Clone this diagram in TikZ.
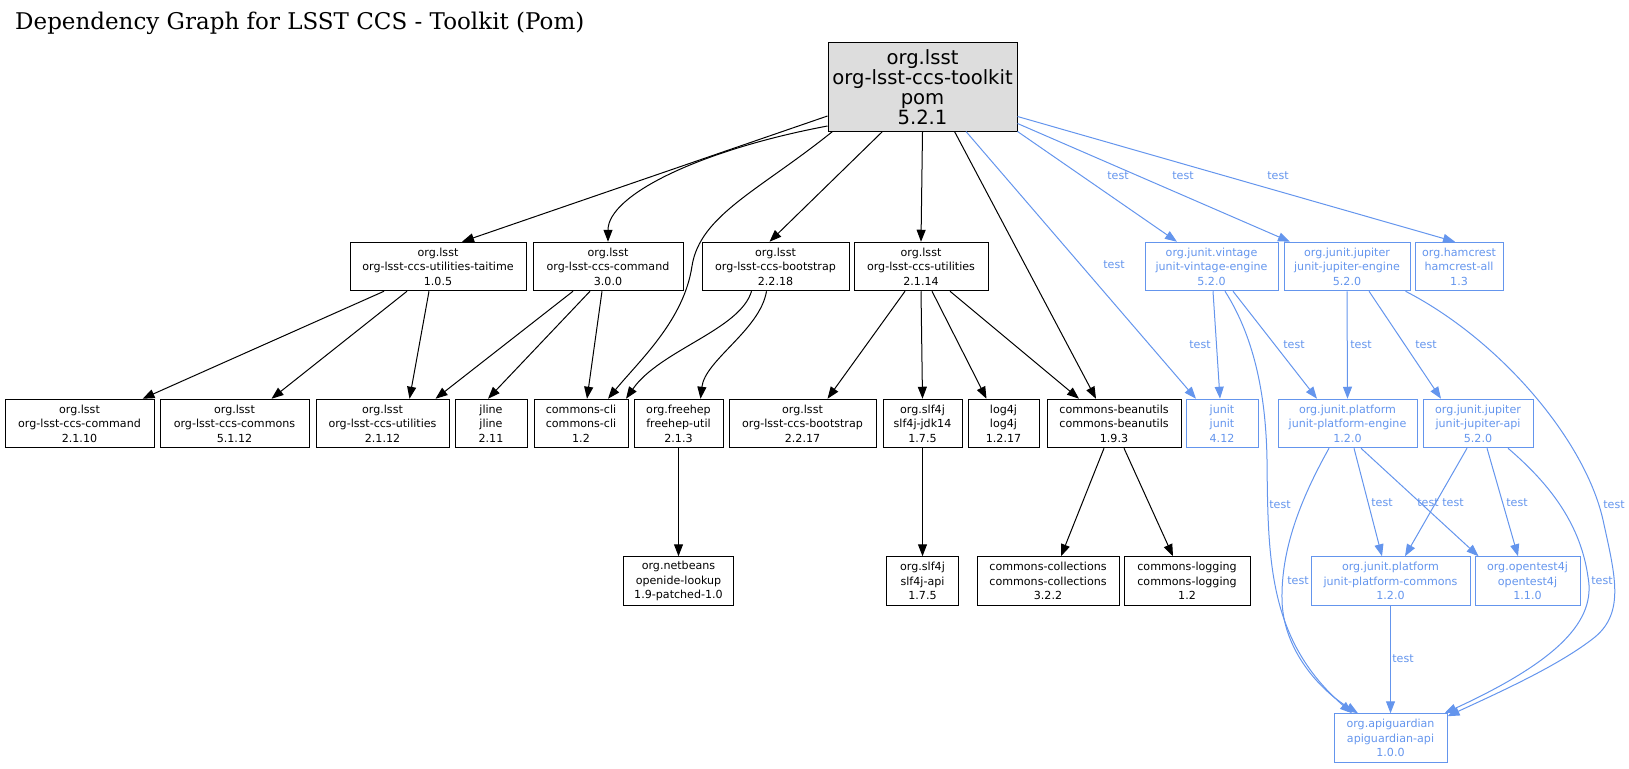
\documentclass[tikz,border=0pt]{standalone}
\usepackage{fontspec}
\setmainfont{DejaVu Sans}
\newfontfamily\titlefamily{DejaVu Serif}
\usetikzlibrary{arrows.meta}
\definecolor{testblue}{HTML}{6495ED}
\definecolor{rootgray}{HTML}{DDDDDD}
\newcommand{\pkgfont}{\fontsize{11.1}{14.5}\selectfont}
\newcommand{\rootfont}{\fontsize{19.6}{20.2}\selectfont}
\tikzset{
  pkg/.style={draw, line width=1pt, inner sep=0pt, minimum height=48.5pt, align=center, font=\pkgfont},
  testpkg/.style={pkg, draw=testblue, text=testblue},
  dep/.style={line width=1pt, -{Triangle[length=12pt,width=9pt]}},
  testdep/.style={dep, color=testblue},
  lbl/.style={inner sep=0pt, text=testblue, font=\pkgfont}
}

\begin{document}
\begin{tikzpicture}[x=1pt, y=-1pt]
	\useasboundingbox (0,0) rectangle (1629,768);
	\node[anchor=base west, inner sep=0pt, font=\titlefamily\fontsize{23}{27}\selectfont] (title) at (15,30) {Dependency Graph for LSST CCS - Toolkit (Pom)};
	% root
	\node[pkg, fill=rootgray, minimum width=189pt, minimum height=88pt, font=\rootfont] (root) at (922.5,87) {org.lsst\\org-lsst-ccs-toolkit\\pom\\5.2.1};
	% first row
	\node[pkg, minimum width=176pt] (taitime) at (438,266.5) {org.lsst\\org-lsst-ccs-utilities-taitime\\1.0.5};
	\node[pkg, minimum width=150pt] (cmdthree) at (608,266.5) {org.lsst\\org-lsst-ccs-command\\3.0.0};
	\node[pkg, minimum width=147pt] (bootnew) at (775.5,266.5) {org.lsst\\org-lsst-ccs-bootstrap\\2.2.18};
	\node[pkg, minimum width=134pt] (utilnew) at (921,266.5) {org.lsst\\org-lsst-ccs-utilities\\2.1.14};
	\node[testpkg, minimum width=133pt] (vintage) at (1211.5,266.5) {org.junit.vintage\\junit-vintage-engine\\5.2.0};
	\node[testpkg, minimum width=126pt] (jupeng) at (1347,266.5) {org.junit.jupiter\\junit-jupiter-engine\\5.2.0};
	\node[testpkg, minimum width=88pt] (hamcrest) at (1459,266.5) {org.hamcrest\\hamcrest-all\\1.3};
	% second row
	\node[pkg, minimum width=149pt] (cmdold) at (79.5,423.5) {org.lsst\\org-lsst-ccs-command\\2.1.10};
	\node[pkg, minimum width=149pt] (commons) at (234.5,423.5) {org.lsst\\org-lsst-ccs-commons\\5.1.12};
	\node[pkg, minimum width=133pt] (utilold) at (382.5,423.5) {org.lsst\\org-lsst-ccs-utilities\\2.1.12};
	\node[pkg, minimum width=72pt] (jline) at (491,423.5) {jline\\jline\\2.11};
	\node[pkg, minimum width=94pt] (cli) at (581,423.5) {commons-cli\\commons-cli\\1.2};
	\node[pkg, minimum width=89pt] (freehep) at (678.5,423.5) {org.freehep\\freehep-util\\2.1.3};
	\node[pkg, minimum width=147pt] (bootold) at (802.5,423.5) {org.lsst\\org-lsst-ccs-bootstrap\\2.2.17};
	\node[pkg, minimum width=79pt] (jdk) at (922.5,423.5) {org.slf4j\\slf4j-jdk14\\1.7.5};
	\node[pkg, minimum width=71pt] (log4j) at (1003.5,423.5) {log4j\\log4j\\1.2.17};
	\node[pkg, minimum width=134pt] (beanutils) at (1114,423.5) {commons-beanutils\\commons-beanutils\\1.9.3};
	\node[testpkg, minimum width=72pt] (junit) at (1222,423.5) {junit\\junit\\4.12};
	\node[testpkg, minimum width=139pt] (pfengine) at (1347.5,423.5) {org.junit.platform\\junit-platform-engine\\1.2.0};
	\node[testpkg, minimum width=110pt] (jupapi) at (1478,423.5) {org.junit.jupiter\\junit-jupiter-api\\5.2.0};
	% third row
	\node[pkg, minimum width=110pt] (netbeans) at (678.5,581) {org.netbeans\\openide-lookup\\1.9-patched-1.0};
	\node[pkg, minimum width=72pt] (slfapi) at (922.5,581) {org.slf4j\\slf4j-api\\1.7.5};
	\node[pkg, minimum width=142pt] (collections) at (1048,581) {commons-collections\\commons-collections\\3.2.2};
	\node[pkg, minimum width=126pt] (logging) at (1187,581) {commons-logging\\commons-logging\\1.2};
	\node[testpkg, minimum width=159pt] (pfcommons) at (1390.5,581) {org.junit.platform\\junit-platform-commons\\1.2.0};
	\node[testpkg, minimum width=105pt] (opentest) at (1527.5,581) {org.opentest4j\\opentest4j\\1.1.0};
	% last row
	\node[testpkg, minimum width=113pt] (apiguard) at (1390.5,738) {org.apiguardian\\apiguardian-api\\1.0.0};

	% compile dependencies
	\draw[dep] ([yshift=-29pt]root.west) -- ([xshift=24pt]taitime.north);
	\draw[dep] ([yshift=-39pt]root.west) .. controls (700,150) and (608,195) .. (cmdthree.north);
	\draw[dep] ([xshift=5pt]root.south west) .. controls (760,190) and (700,215) .. (692,266) .. controls (684,320) and (640,360) .. ([xshift=27pt]cli.north);
	\draw[dep] ([xshift=-40pt]root.south) -- ([xshift=-6pt]bootnew.north);
	\draw[dep] (root.south) -- (utilnew.north);
	\draw[dep] ([xshift=32pt]root.south) -- ([xshift=-18pt]beanutils.north);
	\draw[dep] ([xshift=-54pt]taitime.south) -- ([xshift=63pt]cmdold.north);
	\draw[dep] ([xshift=-31pt]taitime.south) -- ([xshift=37pt]commons.north);
	\draw[dep] ([xshift=-9pt]taitime.south) -- ([xshift=27pt]utilold.north);
	\draw[dep] ([xshift=-35pt]cmdthree.south) -- ([xshift=53pt]utilold.north);
	\draw[dep] ([xshift=-18pt]cmdthree.south) -- ([xshift=-3pt]jline.north);
	\draw[dep] ([xshift=-6pt]cmdthree.south) -- ([xshift=6pt]cli.north);
	\draw[dep] ([xshift=-24pt]bootnew.south) .. controls (740,330) and (660,350) .. ([xshift=45pt]cli.north);
	\draw[dep] ([xshift=-9pt]bootnew.south) .. controls (760,330) and (705,360) .. ([xshift=22pt]freehep.north);
	\draw[dep] ([xshift=-16pt]utilnew.south) -- ([xshift=25pt]bootold.north);
	\draw[dep] (utilnew.south) -- (jdk.north);
	\draw[dep] ([xshift=11pt]utilnew.south) -- ([xshift=-17pt]log4j.north);
	\draw[dep] ([xshift=29pt]utilnew.south) -- ([xshift=-35pt]beanutils.north);
	\draw[dep] (freehep.south) -- (netbeans.north);
	\draw[dep] (jdk.south) -- (slfapi.north);
	\draw[dep] ([xshift=-10pt]beanutils.south) -- ([xshift=13pt]collections.north);
	\draw[dep] ([xshift=10pt]beanutils.south) -- ([xshift=-14pt]logging.north);

	% test dependencies
	\draw[testdep] ([xshift=43.5pt]root.south) -- ([xshift=-26pt]junit.north);
	\draw[testdep] ([yshift=0pt]root.south east) -- ([xshift=-34.5pt]vintage.north);
	\draw[testdep] ([yshift=8pt]root.south east) -- ([xshift=-57pt]jupeng.north);
	\draw[testdep] ([yshift=15pt]root.south east) -- ([xshift=-4pt]hamcrest.north);
	\draw[testdep] ([xshift=1.5pt]vintage.south) -- ([xshift=-2pt]junit.north);
	\draw[testdep] ([xshift=21.5pt]vintage.south) -- ([xshift=-30.5pt]pfengine.north);
	\draw[testdep] ([xshift=13.5pt]vintage.south) .. controls (1256,340) and (1266,400) .. (1267,460) .. controls (1268,560) and (1268,640) .. ([xshift=-38.5pt]apiguard.north);
	\draw[testdep] (jupeng.south) -- (pfengine.north);
	\draw[testdep] ([xshift=22pt]jupeng.south) -- ([xshift=-37pt]jupapi.north);
	\draw[testdep] ([xshift=-5pt]jupeng.south east) .. controls (1500,340) and (1585,440) .. (1603,520) .. controls (1615,575) and (1625,612) .. (1595,637) .. controls (1560,665) and (1500,692) .. ([yshift=-3pt]apiguard.north east);
	\draw[testdep] ([xshift=6.5pt]pfengine.south) -- ([xshift=-8.5pt]pfcommons.north);
	\draw[testdep] ([xshift=13.5pt]pfengine.south) -- ([xshift=-49pt]opentest.north);
	\draw[testdep] ([xshift=-18.5pt]pfengine.south) .. controls (1300,500) and (1281,550) .. (1282,600) .. controls (1283,650) and (1320,690) .. ([xshift=-32.5pt]apiguard.north);
	\draw[testdep] ([xshift=-11pt]jupapi.south) -- ([xshift=14.5pt]pfcommons.north);
	\draw[testdep] ([xshift=9pt]jupapi.south) -- ([xshift=-9.5pt]opentest.north);
	\draw[testdep] ([xshift=30pt]jupapi.south) .. controls (1545,480) and (1580,520) .. (1588,577) .. controls (1596,620) and (1560,660) .. ([xshift=-3pt]apiguard.north east);
	\draw[testdep] (pfcommons.south) -- (apiguard.north);

	% labels
	\node[lbl] at (1114,265) {test};
	\node[lbl] at (1118,176) {test};
	\node[lbl] at (1183,176) {test};
	\node[lbl] at (1278,176) {test};
	\node[lbl] at (1200,345) {test};
	\node[lbl] at (1294,345) {test};
	\node[lbl] at (1361,345) {test};
	\node[lbl] at (1426,345) {test};
	\node[lbl] at (1280,505) {test};
	\node[lbl] at (1614,505) {test};
	\node[lbl] at (1382,503) {test};
	\node[lbl] at (1428,503) {test};
	\node[lbl] at (1453,503) {test};
	\node[lbl] at (1517,503) {test};
	\node[lbl] at (1298,581) {test};
	\node[lbl] at (1602,581) {test};
	\node[lbl] at (1403,659) {test};
\end{tikzpicture}
\end{document}
